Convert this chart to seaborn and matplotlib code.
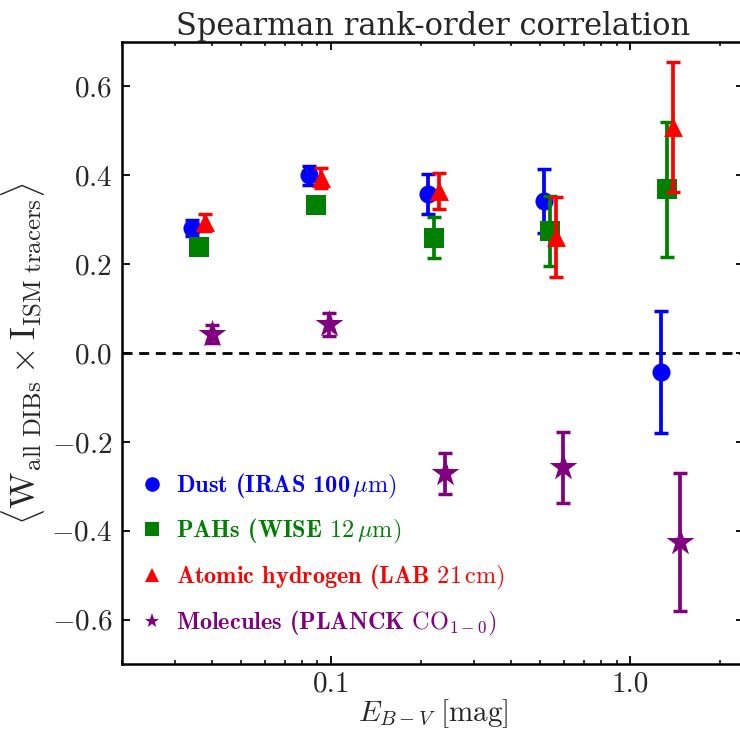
import matplotlib
matplotlib.use("Agg")
import matplotlib.pyplot as plt
import seaborn as sns
from matplotlib.lines import Line2D
from matplotlib.ticker import FixedLocator, FixedFormatter, LogLocator, NullFormatter

# ---- data ----
dust_x = [0.0344, 0.0844, 0.2116, 0.514, 1.27]
dust_y = [0.281, 0.400, 0.358, 0.342, -0.043]
dust_err = [0.018, 0.021, 0.046, 0.072, 0.138]

pah_x = [0.0361, 0.0891, 0.220, 0.539, 1.33]
pah_y = [0.238, 0.332, 0.259, 0.275, 0.369]
pah_err = [0.01, 0.01, 0.046, 0.079, 0.152]

hi_x = [0.0378, 0.0925, 0.230, 0.565, 1.39]
hi_y = [0.294, 0.394, 0.365, 0.262, 0.509]
hi_err = [0.019, 0.023, 0.040, 0.090, 0.146]

co_x = [0.0399, 0.0985, 0.241, 0.596, 1.47]
co_y = [0.0425, 0.065, -0.271, -0.257, -0.425]
co_err = [0.020, 0.026, 0.0455, 0.080, 0.155]

labels = [
    r'Dust (IRAS 100$\,\mu\mathrm{m)}$',
    r'PAHs (WISE $12\,\mu\mathrm{m)}$',
    r'Atomic hydrogen (LAB $21\,\mathrm{cm)}$',
    r'Molecules (PLANCK $\mathrm{CO}_{1-0}\mathrm{)}$',
]
colors = ['#0000ff', '#008000', '#ff0000', '#800080']
markers = ['o', 's', '^', '*']
sizes = [170, 190, 185, 440]
legend_ms = [10.5, 10, 10.5, 11]

xticks = [0.1, 1.0]
xticklabels = ['0.1', '1.0']
yticks = [-0.6, -0.4, -0.2, 0.0, 0.2, 0.4, 0.6]

sns.set_theme(style="ticks")
plt.rcParams.update({
    'font.family': 'serif',
    'font.serif': ['cmr10', 'DejaVu Serif'],
    'mathtext.fontset': 'cm',
    'axes.formatter.use_mathtext': True,
    'axes.unicode_minus': True,
})

fig = plt.figure(figsize=(7.4, 7.33), dpi=100)
ax = fig.add_axes([122 / 740, (733 - 664) / 733, 622 / 740, 622 / 733])
ax.set_xscale('log')

series = [
    (dust_x, dust_y, dust_err),
    (pah_x, pah_y, pah_err),
    (hi_x, hi_y, hi_err),
    (co_x, co_y, co_err),
]

ax.axhline(0.0, color='black', ls='--', lw=2.0, dashes=(3.6, 2.4), zorder=1)

for i, ((x, y, e), c, m, s) in enumerate(zip(series, colors, markers, sizes)):
    z = 3 + 2 * i
    ax.errorbar(x, y, yerr=e, fmt='none', ecolor=c, elinewidth=2.7,
                capsize=5, capthick=2.5, zorder=z)
    sns.scatterplot(x=x, y=y, ax=ax, color=c, marker=m, s=s, linewidth=0,
                    legend=False, zorder=z + 1)

ax.set_xlim(0.02, 2.4)
ax.set_ylim(-0.7, 0.7)

ax.xaxis.set_major_locator(FixedLocator(xticks))
ax.xaxis.set_major_formatter(FixedFormatter(xticklabels))
ax.xaxis.set_minor_locator(LogLocator(base=10, subs=[2, 3, 4, 5, 6, 7, 8, 9], numticks=20))
ax.xaxis.set_minor_formatter(NullFormatter())
ax.yaxis.set_major_locator(FixedLocator(yticks))

ax.tick_params(which='both', direction='in', top=True, right=True, color='black')
ax.tick_params(which='major', length=6, width=1.3, labelsize=21)
ax.tick_params(axis='x', which='major', pad=5)
ax.tick_params(axis='y', which='major', pad=7)
ax.tick_params(which='minor', length=3, width=1.1)
for sp in ax.spines.values():
    sp.set_linewidth(1.8)
    sp.set_color('black')

ax.set_title('Spearman rank-order correlation', fontsize=22, pad=5,
             family=['DejaVu Serif'])
ax.set_xlabel(r'$E_{B-V}\ [\mathrm{mag}]$', fontsize=21, labelpad=0)
ax.set_ylabel(r'$\langle\mathrm{W}_{\rm all\ DIBs}\times\mathrm{I}_{\rm ISM\ tracers}\rangle$',
              fontsize=25.5, labelpad=3)

handles = [Line2D([], [], ls='none', marker=m, color=c, markersize=ms, markeredgewidth=0)
           for m, c, ms in zip(markers, colors, legend_ms)]
leg = ax.legend(handles, labels, loc='center left', bbox_to_anchor=(0.03, 0.176),
                frameon=False, prop={'family': 'cmb10', 'size': 17.5},
                handlelength=0.9, handletextpad=0.55,
                labelspacing=0.68, borderpad=0, borderaxespad=0)
for t, c in zip(leg.get_texts(), colors):
    t.set_color(c)

fig.savefig('out.png', dpi=100)
